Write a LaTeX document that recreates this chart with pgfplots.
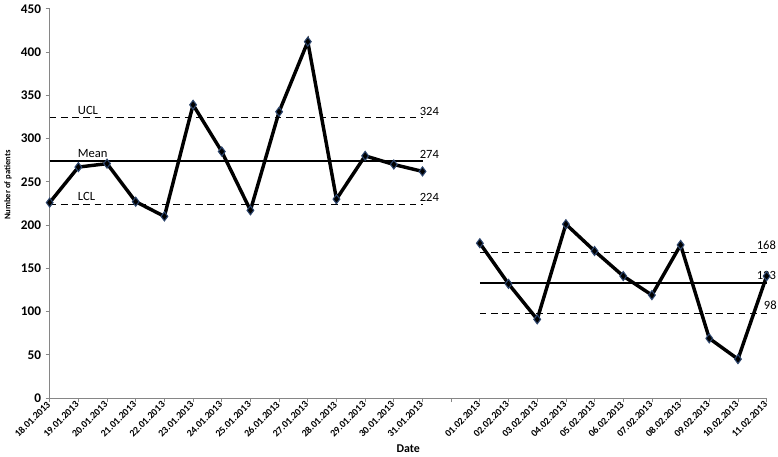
\documentclass[border=0pt]{standalone}
\usepackage{fontspec}
\setmainfont{Carlito}
\usepackage{pgfplots}
\pgfplotsset{compat=1.18}
\definecolor{axgray}{RGB}{134,134,134}
\definecolor{mkedge}{RGB}{45,70,110}
\begin{document}
\begin{tikzpicture}
\begin{axis}[
  scale only axis,
  width=541.5pt, height=294pt,
  xmin=0, xmax=25, ymin=0, ymax=450,
  axis x line*=bottom, axis y line*=left,
  axis line style={draw=axgray, line width=0.6pt},
  tick style={draw=axgray, line width=0.6pt},
  tick align=outside, major tick length=3pt,
  xtick={0,...,25},
  xticklabels={18.01.2013,19.01.2013,20.01.2013,21.01.2013,22.01.2013,23.01.2013,24.01.2013,25.01.2013,26.01.2013,27.01.2013,28.01.2013,29.01.2013,30.01.2013,31.01.2013,{},01.02.2013,02.02.2013,03.02.2013,04.02.2013,05.02.2013,06.02.2013,07.02.2013,08.02.2013,09.02.2013,10.02.2013,11.02.2013},
  ytick={0,50,...,450},
  /pgf/number format/assume math mode=true,
  yticklabel style={font=\bfseries\fontsize{10}{12}\selectfont},
  xticklabel style={font=\bfseries\fontsize{7.5}{9}\selectfont, rotate=45, anchor=east, inner sep=1pt},
  xlabel={Date}, ylabel={Number of patients},
  xlabel style={font=\bfseries\fontsize{9}{11}\selectfont},
  ylabel style={font=\bfseries\fontsize{6.5}{8}\selectfont, at={(ticklabel cs:0.547)}},
  clip=false,
]
% control lines, period 1
\addplot[black, line width=0.6pt, dash pattern=on 5pt off 3.5pt] coordinates {(0,324) (13,324)};
\addplot[black, line width=1.1pt] coordinates {(0,274) (13,274)};
\addplot[black, line width=0.6pt, dash pattern=on 5pt off 3.5pt] coordinates {(0,224) (13,224)};
% control lines, period 2
\addplot[black, line width=0.6pt, dash pattern=on 5pt off 3.5pt] coordinates {(15,168) (25,168)};
\addplot[black, line width=1.1pt] coordinates {(15,133) (25,133)};
\addplot[black, line width=0.6pt, dash pattern=on 5pt off 3.5pt] coordinates {(15,98) (25,98)};
% data
\addplot[black, line width=2.6pt, mark=diamond*, mark size=3.4pt,
  mark options={fill=black, draw=mkedge, line width=0.8pt}] coordinates {
  (0,226) (1,267) (2,271) (3,227) (4,210) (5,339) (6,285) (7,217) (8,331) (9,412) (10,230) (11,280) (12,270) (13,262)};
\addplot[black, line width=2.6pt, mark=diamond*, mark size=3.4pt,
  mark options={fill=black, draw=mkedge, line width=0.8pt}] coordinates {
  (15,179) (16,132) (17,91) (18,201) (19,170) (20,141) (21,119) (22,177) (23,69) (24,45) (25,141)};
% annotations
\begin{scope}[every node/.style={font=\fontsize{9.5}{11}\selectfont, inner sep=1pt, anchor=south west}]
\node at (axis cs:0.93,326) {UCL};
\node at (axis cs:0.93,276) {Mean};
\node at (axis cs:0.93,226) {LCL};
\node at (axis cs:12.85,325) {324};
\node at (axis cs:12.85,275) {274};
\node at (axis cs:12.85,225) {224};
\node at (axis cs:24.6,170) {168};
\node at (axis cs:24.6,135) {133};
\node at (axis cs:24.85,100) {98};
\end{scope}
\end{axis}
\end{tikzpicture}
\end{document}
